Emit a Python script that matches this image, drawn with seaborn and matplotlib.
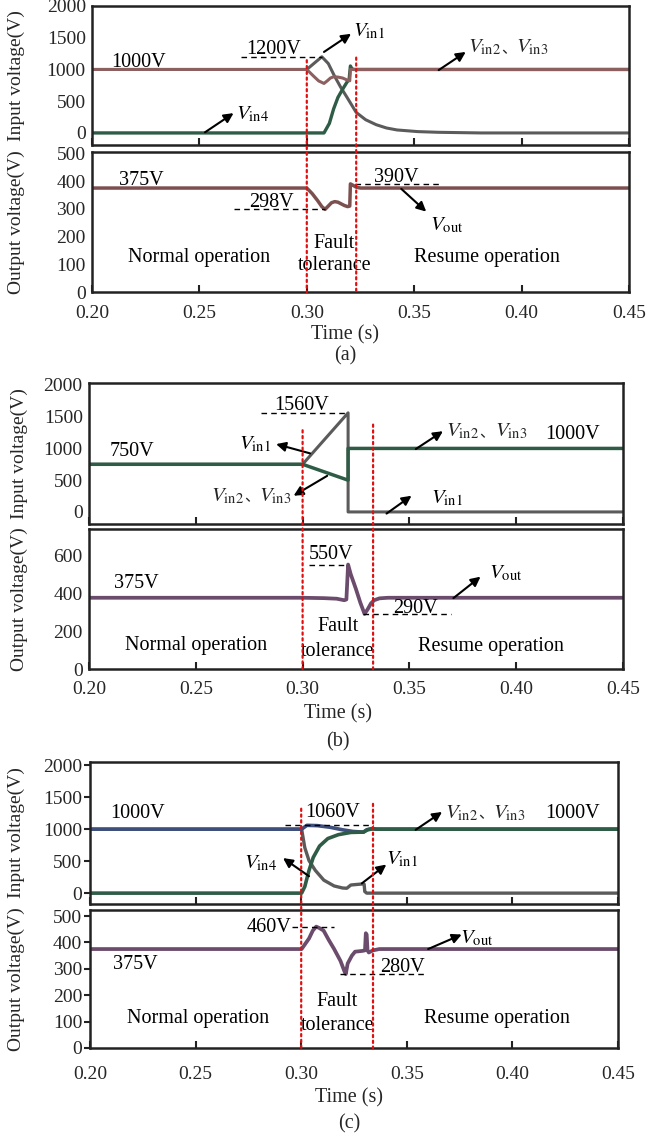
import matplotlib
matplotlib.use("Agg")
import matplotlib.pyplot as plt
import seaborn as sns
from matplotlib.patches import ConnectionPatch
from matplotlib.offsetbox import TextArea, HPacker, AnnotationBbox

sns.set_theme(style="white")
plt.rcParams["font.family"] = ["Liberation Serif", "Noto Sans CJK SC"]
plt.rcParams["mathtext.fontset"] = "stix"
plt.rcParams["font.size"] = 14

# ---------------- data ----------------
XTICKS = [0.20, 0.25, 0.30, 0.35, 0.40, 0.45]
XTICKLABELS = ["0.20", "0.25", "0.30", "0.35", "0.40", "0.45"]

# (a) input voltages
a_t_vin1 = [0.20, 0.300, 0.307, 0.310, 0.3129, 0.3158, 0.3187, 0.323, 0.3274, 0.3323,
            0.3371, 0.342, 0.3517, 0.3614, 0.381, 0.45]
a_v_vin1 = [1000, 1000, 1200, 1094, 896, 719, 562, 323, 208, 130, 78, 47, 21, 10, 0, 0]
a_t_vin4 = [0.20, 0.308, 0.3105, 0.3125, 0.3145, 0.3167, 0.3187, 0.3197, 0.3203, 0.3210, 0.322, 0.45]
a_v_vin4 = [0, 0, 150, 380, 560, 690, 800, 840, 1055, 1010, 1000, 1000]
a_t_vin23 = [0.20, 0.300, 0.303, 0.3055, 0.308, 0.3095, 0.311, 0.3125, 0.3145, 0.3167,
             0.3187, 0.3200, 0.3203, 0.45]
a_v_vin23 = [1000, 1000, 900, 820, 780, 820, 865, 885, 880, 865, 835, 822, 1000, 1000]
# (a) output voltage
a_t_vout = [0.20, 0.300, 0.3025, 0.305, 0.307, 0.3085, 0.310, 0.3115, 0.313, 0.3145,
            0.316, 0.3175, 0.319, 0.3200, 0.3203, 0.3215, 0.323, 0.325, 0.45]
a_v_vout = [375, 375, 355, 330, 308, 298, 310, 322, 326, 324, 318, 312, 308, 310, 390,
            385, 378, 375, 375]

# (b) input voltages
b_t_vin1 = [0.20, 0.300, 0.3213, 0.3213, 0.45]
b_v_vin1 = [750, 750, 1560, 0, 0]
b_t_vin23 = [0.20, 0.300, 0.3213, 0.3213, 0.45]
b_v_vin23 = [750, 750, 500, 1000, 1000]
# (b) output voltage
b_t_vout = [0.20, 0.300, 0.310, 0.316, 0.3195, 0.3205, 0.3213, 0.3225, 0.325, 0.327,
            0.3285, 0.329, 0.3305, 0.332, 0.3335, 0.336, 0.340, 0.45]
b_v_vout = [375, 375, 373, 370, 362, 366, 550, 500, 420, 350, 305, 290, 315, 345, 362,
            372, 375, 375]

# (c) input voltages
c_t_vin1 = [0.20, 0.3002, 0.3017, 0.3037, 0.3067, 0.3107, 0.3156, 0.3196, 0.3216, 0.3235,
            0.3285, 0.3298, 0.3301, 0.3310, 0.45]
c_v_vin1 = [1000, 1000, 711, 508, 355, 203, 112, 80, 76, 127, 142, 140, 25, 0, 0]
c_t_vin23 = [0.20, 0.3002, 0.3027, 0.3077, 0.3136, 0.3196, 0.3245, 0.3295, 0.3310, 0.3334,
             0.3354, 0.45]
c_v_vin23 = [1000, 1000, 1060, 1055, 1030, 990, 964, 954, 990, 1010, 1000, 1000]
c_t_vin4 = [0.20, 0.3002, 0.3017, 0.3037, 0.3057, 0.3087, 0.3126, 0.3176, 0.3235, 0.3295,
            0.3314, 0.334, 0.336, 0.45]
c_v_vin4 = [0, 0, 102, 355, 558, 736, 853, 914, 949, 954, 990, 1005, 1000, 1000]
# (c) output voltage
c_t_vout = [0.20, 0.3002, 0.3037, 0.3055, 0.3071, 0.3085, 0.3106, 0.3130, 0.3156, 0.3186,
            0.3205, 0.3211, 0.322, 0.324, 0.3255, 0.329, 0.3302, 0.3306, 0.3310, 0.3314,
            0.332, 0.334, 0.337, 0.45]
c_v_vout = [375, 375, 415, 445, 460, 455, 445, 410, 375, 330, 290, 280, 320, 350, 365,
            368, 370, 435, 430, 370, 362, 370, 375, 375]

# colours
C_GRAY = "#5b5b5b"
C_GREEN = "#2f5c46"
C_BROWN = "#8d6060"
C_VOUT_A = "#7d5050"
C_PURPLE = "#6c4c6c"
C_BLUE = "#3e4f7c"
C_RED = "#e01010"

TICK_FS = 14
TEXT_FS = 14.5
VLAB_FS = 15

# ---------------- helpers ----------------
fig = plt.figure(figsize=(6.54, 11.37), dpi=100)
FW, FH = 654.0, 1137.0


def make_axes(x0, x1, y0, y1):
    return fig.add_axes([x0 / FW, 1 - y1 / FH, (x1 - x0) / FW, (y1 - y0) / FH])


def trace(ax, t, v, color, lw=2.2, alpha=1.0):
    sns.lineplot(x=t, y=v, ax=ax, color=color, lw=lw, estimator=None, sort=False,
                 alpha=alpha, legend=False)


def style(ax, ylim, yticks, show_x, ytick_len, xpad, ylabel, ylabel_x):
    ax.set_xlim(0.2, 0.45)
    ax.set_ylim(*ylim)
    ax.set_xticks(XTICKS)
    ax.set_xticklabels(XTICKLABELS if show_x else [])
    ax.set_yticks(yticks)
    ax.set_yticklabels([str(v) for v in yticks])
    ax.tick_params(axis="x", direction="in", length=5, width=1.5, pad=xpad,
                   labelsize=TICK_FS, color="#222222", bottom=True)
    ax.tick_params(axis="y", direction="out", length=ytick_len, width=1.5,
                   pad=4.5 if ytick_len == 0 else 1.5, labelsize=TICK_FS,
                   color="#222222", left=True)
    for s in ax.spines.values():
        s.set_linewidth(1.8)
        s.set_color("#222222")
    ax.set_xlabel("")
    ax.set_ylabel(ylabel, fontsize=14)
    ax.yaxis.set_label_coords(ylabel_x, 0.5)
    ax.grid(False)


def txt(ax, x, y, s, ha="left", va="baseline", size=TEXT_FS):
    ax.text(x, y, s, ha=ha, va=va, fontsize=size, color="black")


def vlab(ax, x, y, sub):
    ax.text(x, y, r"$V_{\rm %s}$" % sub, ha="left", va="center", fontsize=VLAB_FS,
            color="black")


def vpair(ax, x, y):
    parts = [TextArea(r"$V_{\rm in2}$", textprops=dict(fontsize=VLAB_FS)),
             TextArea("、", textprops=dict(fontsize=11, family=["Noto Sans CJK SC"])),
             TextArea(r"$V_{\rm in3}$", textprops=dict(fontsize=VLAB_FS))]
    box = HPacker(children=parts, align="baseline", pad=0, sep=0)
    ab = AnnotationBbox(box, (x, y), xycoords="data", frameon=False,
                        box_alignment=(0, 0.5), pad=0)
    ax.add_artist(ab)


def arrow(ax, tail, head):
    ax.annotate("", xy=head, xytext=tail,
                arrowprops=dict(arrowstyle="-|>", color="black", lw=1.5,
                                mutation_scale=14, shrinkA=0, shrinkB=0))


def dash(ax, t0, t1, v):
    ax.plot([t0, t1], [v, v], color="black", lw=1.0, dashes=(4, 3))


def fault_line(ax_top, ax_bot, t, vtop):
    con = ConnectionPatch(xyA=(t, vtop), coordsA=ax_top.transData,
                          xyB=(t, 0), coordsB=ax_bot.transData,
                          color=C_RED, lw=1.6, linestyle=(0, (1, 1.6)),
                          arrowstyle="-", shrinkA=0, shrinkB=0, zorder=5)
    fig.add_artist(con)


def regions(ax, tn, yn, tf, yf1, yf2, tr, yr):
    txt(ax, tn, yn, "Normal operation", ha="center")
    txt(ax, tf, yf1, "Fault", ha="center")
    txt(ax, tf, yf2, "tolerance", ha="center")
    txt(ax, tr, yr, "Resume operation", ha="center")


def footer(x, y_time, y_tag, tag):
    fig.text(x / FW, 1 - y_time / FH, "Time (s)", ha="center", va="center",
             fontsize=TEXT_FS)
    fig.text(x / FW, 1 - y_tag / FH, tag, ha="center", va="center", fontsize=TEXT_FS)


# ---------------- (a) ----------------
ax1 = make_axes(92, 629, 6, 145)
trace(ax1, a_t_vin1, a_v_vin1, C_GRAY)
trace(ax1, a_t_vin4, a_v_vin4, C_GREEN, lw=2.4)
trace(ax1, a_t_vin23, a_v_vin23, C_BROWN)
style(ax1, (-190, 2000), [0, 500, 1000, 1500, 2000], False, 0, 9,
      "Input voltage(V)", -0.125)
txt(ax1, 0.209, 1045, "1000V")
txt(ax1, 0.272, 1250, "1200V")
dash(ax1, 0.2692, 0.307, 1200)
arrow(ax1, (0.308, 1276), (0.3206, 1562))
vlab(ax1, 0.3216, 1600, "in1")
arrow(ax1, (0.3614, 990), (0.374, 1276))
vpair(ax1, 0.375, 1340)
arrow(ax1, (0.2526, 10), (0.2659, 312))
vlab(ax1, 0.2672, 290, "in4")

ax2 = make_axes(92, 629, 152, 292)
trace(ax2, a_t_vout, a_v_vout, C_VOUT_A, lw=2.5)
style(ax2, (0, 505), [0, 100, 200, 300, 400, 500], True, 0, 9,
      "Output voltage(V)", -0.125)
txt(ax2, 0.2128, 386, "375V")
txt(ax2, 0.273, 305, "298V")
dash(ax2, 0.2662, 0.3086, 298)
txt(ax2, 0.3313, 398, "390V")
dash(ax2, 0.3226, 0.3614, 390)
arrow(ax2, (0.344, 372), (0.3556, 290))
vlab(ax2, 0.3575, 240, "out")
regions(ax2, 0.2497, 110, 0.3129, 160, 80, 0.3838, 110)
fault_line(ax1, ax2, 0.300, 1146)
fault_line(ax1, ax2, 0.323, 1187)
footer(345, 335, 356, "(a)")

# ---------------- (b) ----------------
ax3 = make_axes(89, 623, 383, 524)
trace(ax3, b_t_vin1, b_v_vin1, C_GRAY)
trace(ax3, b_t_vin23, b_v_vin23, C_GREEN, lw=2.5)
style(ax3, (-190, 2030), [0, 500, 1000, 1500, 2000], False, 0, 9,
      "Input voltage(V)", -0.115)
txt(ax3, 0.2096, 880, "750V")
txt(ax3, 0.2865, 1609, "1560V")
dash(ax3, 0.2806, 0.3213, 1560)
arrow(ax3, (0.3035, 922), (0.2876, 1068))
vlab(ax3, 0.2700, 1070, "in1")
arrow(ax3, (0.3115, 568), (0.2958, 255))
vpair(ax3, 0.2571, 245)
arrow(ax3, (0.353, 990), (0.3657, 1271))
vpair(ax3, 0.3673, 1260)
txt(ax3, 0.4136, 1156, "1000V")
arrow(ax3, (0.3393, -26), (0.351, 255))
vlab(ax3, 0.3602, 219, "in1")

ax4 = make_axes(89, 623, 529, 669)
trace(ax4, b_t_vout, b_v_vout, C_PURPLE, lw=2.7)
style(ax4, (0, 737), [0, 200, 400, 600], True, 0, 9,
      "Output voltage(V)", -0.115)
txt(ax4, 0.2115, 425, "375V")
txt(ax4, 0.3027, 577, "550V")
dash(ax4, 0.3031, 0.3213, 550)
txt(ax4, 0.3422, 294, "290V")
dash(ax4, 0.3285, 0.3696, 290)
arrow(ax4, (0.3706, 373), (0.3833, 486))
vlab(ax4, 0.3872, 504, "out")
regions(ax4, 0.2503, 101, 0.3164, 198, 70, 0.3882, 93)
fault_line(ax3, ax4, 0.300, 1286)
fault_line(ax3, ax4, 0.333, 1375)
footer(338, 714, 742, "(b)")

# ---------------- (c) ----------------
ax5 = make_axes(90, 618, 762, 904)
trace(ax5, c_t_vin1, c_v_vin1, C_GRAY, lw=2.4)
trace(ax5, c_t_vin23, c_v_vin23, C_BLUE, lw=2.6)
trace(ax5, c_t_vin4, c_v_vin4, C_GREEN, lw=2.6)
style(ax5, (-170, 2050), [0, 500, 1000, 1500, 2000], False, 4, 9,
      "Input voltage(V)", -0.124)
txt(ax5, 0.2097, 1178, "1000V")
txt(ax5, 0.3021, 1188, "1060V")
dash(ax5, 0.2924, 0.334, 1060)
txt(ax5, 0.4156, 1178, "1000V")
arrow(ax5, (0.3542, 990), (0.3667, 1269))
vpair(ax5, 0.368, 1244)
arrow(ax5, (0.3037, 264), (0.2914, 548))
vlab(ax5, 0.273, 457, "in4")
arrow(ax5, (0.3287, 152), (0.3403, 447))
vlab(ax5, 0.3403, 533, "in1")

ax6 = make_axes(90, 618, 910, 1048)
trace(ax6, c_t_vout, c_v_vout, C_PURPLE, lw=2.7)
style(ax6, (0, 523), [0, 100, 200, 300, 400, 500], True, 4, 13,
      "Output voltage(V)", -0.124)
txt(ax6, 0.274, 455, "460V", va="center")
dash(ax6, 0.2958, 0.3156, 460)
txt(ax6, 0.2107, 300, "375V")
txt(ax6, 0.3374, 287, "280V")
dash(ax6, 0.3186, 0.3591, 280)
arrow(ax6, (0.3601, 375), (0.376, 430))
vlab(ax6, 0.375, 415, "out")
regions(ax6, 0.2513, 95, 0.3172, 158, 69, 0.3928, 95)
fault_line(ax5, ax6, 0.300, 1320)
fault_line(ax5, ax6, 0.334, 1396)
footer(349, 1098, 1124, "(c)")

fig.savefig("out.png", dpi=100, facecolor="white")
